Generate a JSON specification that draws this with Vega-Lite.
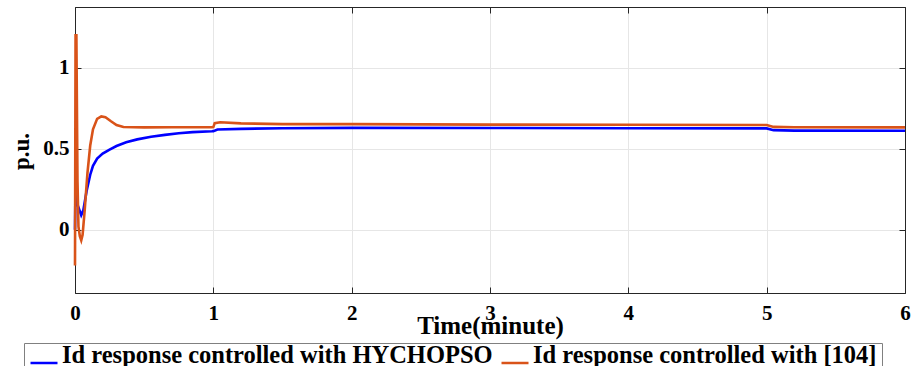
{
  "$schema": "https://vega.github.io/schema/vega-lite/v6.json",
  "autosize": "none",
  "width": 830,
  "height": 286,
  "padding": {"left": 75, "top": 7, "right": 13, "bottom": 73},
  "background": "white",
  "config": {
    "view": {"stroke": "#262626", "strokeWidth": 1},
    "axis": {
      "labelFont": "Liberation Serif",
      "labelFontWeight": "bold",
      "labelColor": "#000000",
      "titleFont": "Liberation Serif",
      "titleFontWeight": "bold",
      "titleColor": "#000000",
      "gridColor": "#e6e6e6",
      "gridWidth": 1,
      "domainColor": "#262626",
      "tickColor": "#262626"
    },
    "legend": {
      "labelFont": "Liberation Serif",
      "labelFontWeight": "bold",
      "labelColor": "#000000"
    }
  },
  "resolve": {"axis": {"x": "independent", "y": "independent"}},
  "data": {
    "values": [
      {"t": 0.0, "v": 0.0, "s": "Id response controlled with HYCHOPSO"},
      {"t": 0.004, "v": 0.30, "s": "Id response controlled with HYCHOPSO"},
      {"t": 0.02, "v": 0.15, "s": "Id response controlled with HYCHOPSO"},
      {"t": 0.045, "v": 0.09, "s": "Id response controlled with HYCHOPSO"},
      {"t": 0.06, "v": 0.12, "s": "Id response controlled with HYCHOPSO"},
      {"t": 0.084, "v": 0.24, "s": "Id response controlled with HYCHOPSO"},
      {"t": 0.11, "v": 0.34, "s": "Id response controlled with HYCHOPSO"},
      {"t": 0.13, "v": 0.395, "s": "Id response controlled with HYCHOPSO"},
      {"t": 0.16, "v": 0.44, "s": "Id response controlled with HYCHOPSO"},
      {"t": 0.2, "v": 0.47, "s": "Id response controlled with HYCHOPSO"},
      {"t": 0.25, "v": 0.495, "s": "Id response controlled with HYCHOPSO"},
      {"t": 0.3, "v": 0.517, "s": "Id response controlled with HYCHOPSO"},
      {"t": 0.37, "v": 0.54, "s": "Id response controlled with HYCHOPSO"},
      {"t": 0.45, "v": 0.558, "s": "Id response controlled with HYCHOPSO"},
      {"t": 0.55, "v": 0.574, "s": "Id response controlled with HYCHOPSO"},
      {"t": 0.65, "v": 0.586, "s": "Id response controlled with HYCHOPSO"},
      {"t": 0.75, "v": 0.596, "s": "Id response controlled with HYCHOPSO"},
      {"t": 0.85, "v": 0.603, "s": "Id response controlled with HYCHOPSO"},
      {"t": 0.99, "v": 0.608, "s": "Id response controlled with HYCHOPSO"},
      {"t": 1.0, "v": 0.609, "s": "Id response controlled with HYCHOPSO"},
      {"t": 1.03, "v": 0.619, "s": "Id response controlled with HYCHOPSO"},
      {"t": 1.2, "v": 0.623, "s": "Id response controlled with HYCHOPSO"},
      {"t": 1.5, "v": 0.627, "s": "Id response controlled with HYCHOPSO"},
      {"t": 2.0, "v": 0.629, "s": "Id response controlled with HYCHOPSO"},
      {"t": 3.0, "v": 0.628, "s": "Id response controlled with HYCHOPSO"},
      {"t": 4.0, "v": 0.627, "s": "Id response controlled with HYCHOPSO"},
      {"t": 5.0, "v": 0.626, "s": "Id response controlled with HYCHOPSO"},
      {"t": 5.05, "v": 0.615, "s": "Id response controlled with HYCHOPSO"},
      {"t": 5.2, "v": 0.612, "s": "Id response controlled with HYCHOPSO"},
      {"t": 6.0, "v": 0.611, "s": "Id response controlled with HYCHOPSO"},
      {"t": 0.0, "v": -0.22, "s": "Id response controlled with [104]"},
      {"t": 0.004, "v": 1.20, "s": "Id response controlled with [104]"},
      {"t": 0.01, "v": 1.20, "s": "Id response controlled with [104]"},
      {"t": 0.018, "v": 0.3, "s": "Id response controlled with [104]"},
      {"t": 0.025, "v": 0.02, "s": "Id response controlled with [104]"},
      {"t": 0.035, "v": -0.04, "s": "Id response controlled with [104]"},
      {"t": 0.045, "v": -0.065, "s": "Id response controlled with [104]"},
      {"t": 0.055, "v": -0.03, "s": "Id response controlled with [104]"},
      {"t": 0.07, "v": 0.12, "s": "Id response controlled with [104]"},
      {"t": 0.09, "v": 0.35, "s": "Id response controlled with [104]"},
      {"t": 0.11, "v": 0.52, "s": "Id response controlled with [104]"},
      {"t": 0.13, "v": 0.62, "s": "Id response controlled with [104]"},
      {"t": 0.16, "v": 0.685, "s": "Id response controlled with [104]"},
      {"t": 0.19, "v": 0.70, "s": "Id response controlled with [104]"},
      {"t": 0.22, "v": 0.695, "s": "Id response controlled with [104]"},
      {"t": 0.26, "v": 0.67, "s": "Id response controlled with [104]"},
      {"t": 0.3, "v": 0.647, "s": "Id response controlled with [104]"},
      {"t": 0.35, "v": 0.634, "s": "Id response controlled with [104]"},
      {"t": 0.5, "v": 0.632, "s": "Id response controlled with [104]"},
      {"t": 0.7, "v": 0.633, "s": "Id response controlled with [104]"},
      {"t": 0.99, "v": 0.633, "s": "Id response controlled with [104]"},
      {"t": 1.0, "v": 0.634, "s": "Id response controlled with [104]"},
      {"t": 1.01, "v": 0.658, "s": "Id response controlled with [104]"},
      {"t": 1.05, "v": 0.664, "s": "Id response controlled with [104]"},
      {"t": 1.2, "v": 0.657, "s": "Id response controlled with [104]"},
      {"t": 1.5, "v": 0.652, "s": "Id response controlled with [104]"},
      {"t": 2.0, "v": 0.652, "s": "Id response controlled with [104]"},
      {"t": 3.0, "v": 0.649, "s": "Id response controlled with [104]"},
      {"t": 4.0, "v": 0.648, "s": "Id response controlled with [104]"},
      {"t": 5.0, "v": 0.647, "s": "Id response controlled with [104]"},
      {"t": 5.05, "v": 0.635, "s": "Id response controlled with [104]"},
      {"t": 5.2, "v": 0.633, "s": "Id response controlled with [104]"},
      {"t": 6.0, "v": 0.632, "s": "Id response controlled with [104]"}
    ]
  },
  "layer": [
    {
      "transform": [{"filter": "datum.s === 'Id response controlled with HYCHOPSO'"}],
      "mark": {"type": "line", "strokeWidth": 2.6},
      "encoding": {
        "x": {
          "field": "t", "type": "quantitative",
          "scale": {"domain": [0, 6], "nice": false, "zero": false},
          "axis": {
            "values": [0, 1, 2, 3, 4, 5, 6],
            "title": "Time(minute)",
            "titleFontSize": 25,
            "titleX": 415, "titleY": 40, "titleBaseline": "alphabetic", "titleAlign": "center",
            "labelFontSize": 21,
            "tickSize": -6,
            "labelPadding": 15,
            "labelFlush": false,
            "grid": true
          }
        },
        "y": {
          "field": "v", "type": "quantitative",
          "scale": {"domain": [-0.39, 1.375], "nice": false, "zero": false},
          "axis": {
            "values": [0, 0.5, 1],
            "format": "~g",
            "title": "p.u.",
            "titleFontSize": 23,
            "titleX": -54, "titleY": 144, "titleBaseline": "middle", "titleAngle": 270, "titleAlign": "center",
            "labelFontSize": 21,
            "tickSize": -6,
            "labelPadding": 12,
            "labelFlush": false,
            "labelBaseline": "middle",
            "grid": true
          }
        },
        "color": {
          "field": "s", "type": "nominal",
          "scale": {
            "domain": ["Id response controlled with HYCHOPSO", "Id response controlled with [104]"],
            "range": ["#0000FF", "#D95319"]
          },
          "legend": {
            "title": null,
            "orient": "none",
            "legendX": -51,
            "legendY": 336,
            "direction": "horizontal",
            "symbolType": "stroke",
            "symbolSize": 729,
            "symbolStrokeWidth": 2.5,
            "labelFontSize": 24.5,
            "labelBaseline": "alphabetic",
            "labelLimit": 2000,
            "labelOffset": 3,
            "columnPadding": 3,
            "padding": 5,
            "strokeColor": "#808080",
            "fillColor": "#ffffff"
          }
        }
      }
    },
    {
      "transform": [{"filter": "datum.s === 'Id response controlled with [104]'"}],
      "mark": {"type": "line", "strokeWidth": 2.6},
      "encoding": {
        "x": {"field": "t", "type": "quantitative", "axis": null},
        "y": {"field": "v", "type": "quantitative", "axis": null},
        "color": {"field": "s", "type": "nominal"}
      }
    },
    {
      "mark": {"type": "line", "opacity": 0},
      "encoding": {
        "x": {"field": "t", "type": "quantitative", "axis": {"orient": "top", "labels": false, "grid": false, "title": null, "values": [0, 1, 2, 3, 4, 5, 6], "tickSize": -6}},
        "y": {"field": "v", "type": "quantitative", "axis": {"orient": "right", "labels": false, "grid": false, "title": null, "values": [0, 0.5, 1], "tickSize": -6}}
      }
    }
  ]
}
